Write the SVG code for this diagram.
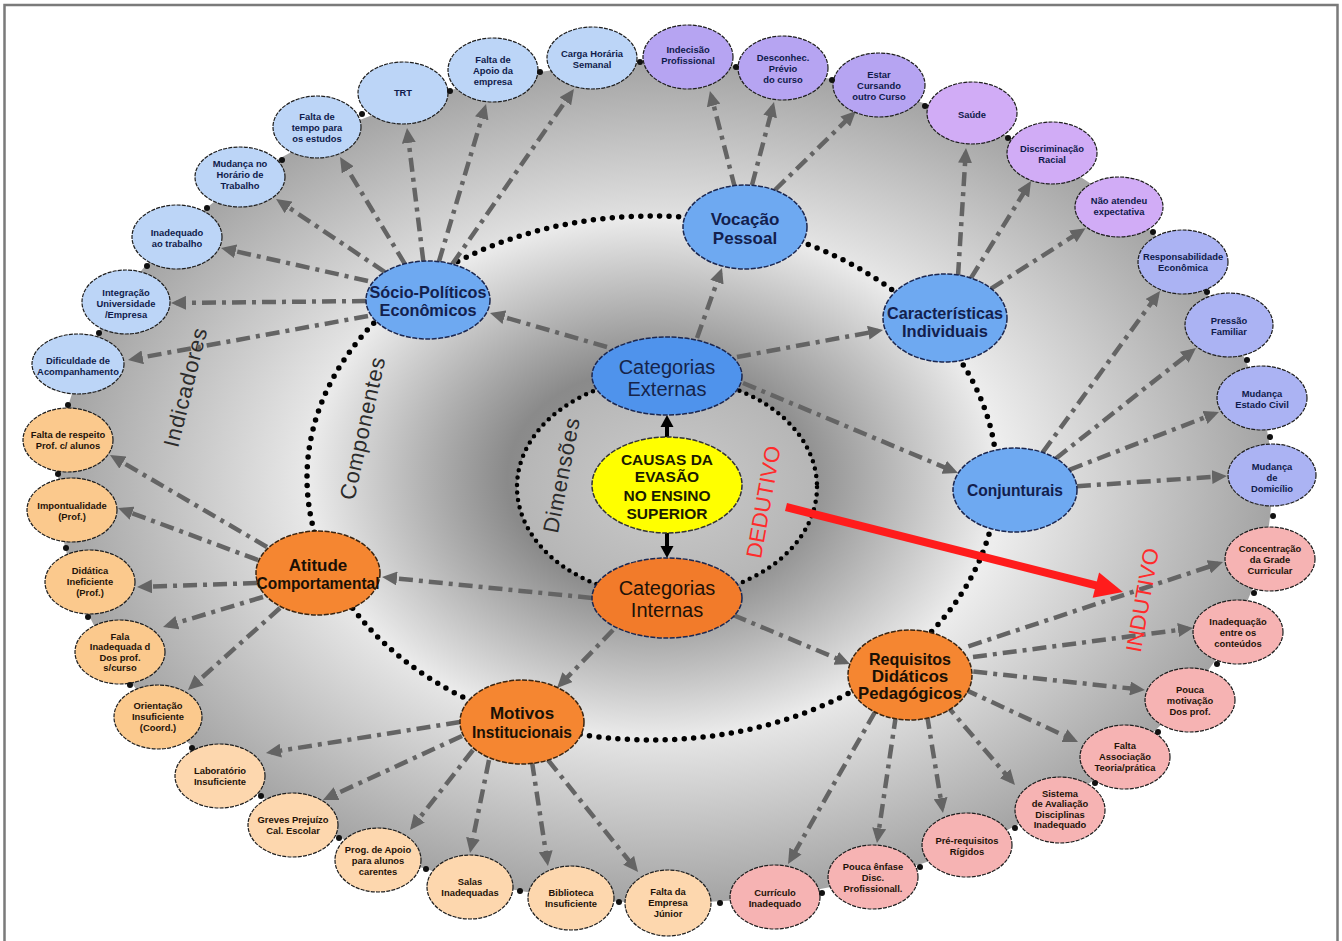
<svg xmlns="http://www.w3.org/2000/svg" width="1342" height="941" viewBox="0 0 1342 941">
<defs>
<style>
.o{stroke:#1e1e1e;stroke-width:1.2;stroke-dasharray:4 1.2}
.k{stroke:#1b2750;stroke-width:1.5;stroke-dasharray:5 1.5}
.b1{fill:#bcd5f7}.p1{fill:#b6a4f2}.p2{fill:#d1acf6}.p3{fill:#abb3f3}.r1{fill:#f6b3b3}.e1{fill:#fdd7ae}.e2{fill:#fbc98d}
.cb{fill:#6ea9f1}.co{fill:#f58631}
.t{font-family:"Liberation Sans",Arial,sans-serif;font-size:9.4px;font-weight:bold;text-anchor:middle}
.tn{fill:#0f1b4b}.td{fill:#1f1308}
.c{font-family:"Liberation Sans",Arial,sans-serif;font-size:17px;font-weight:bold;text-anchor:middle}
.cnv{fill:#13204d}.cdk{fill:#1a1005}
.g{font-family:"Liberation Sans",Arial,sans-serif;font-size:20px;text-anchor:middle;fill:#16244a}
.l{font-family:"Liberation Sans",Arial,sans-serif;font-size:22px;text-anchor:middle;fill:#2b2b2b;letter-spacing:0.8px}
.red{font-family:"Liberation Sans",Arial,sans-serif;font-size:22px;text-anchor:middle;fill:#ff2b2b}
.cn{fill:none;stroke:#646464;stroke-width:4.5;stroke-dasharray:14 6 4 6;marker-end:url(#ah)}
.dt{fill:#111}
.ring{fill:none;stroke:#000;stroke-linecap:round}
</style>
<marker id="ah" markerUnits="userSpaceOnUse" markerWidth="16" markerHeight="14" refX="10" refY="7" orient="auto"><path d="M0,0 L15,7 L0,14 Z" fill="#646464"/></marker>
<radialGradient id="gOuter" cx="0.5" cy="0.5" r="0.5">
<stop offset="0" stop-color="#f0f0f0"/><stop offset="0.56" stop-color="#ededed"/><stop offset="1" stop-color="#a4a4a4"/>
</radialGradient>
<radialGradient id="gMid" cx="0.5" cy="0.5" r="0.5">
<stop offset="0" stop-color="#9a9a9a"/><stop offset="0.42" stop-color="#8a8a8a"/><stop offset="1" stop-color="#ececec"/>
</radialGradient>
<radialGradient id="gIn" cx="0.5" cy="0.5" r="0.5">
<stop offset="0" stop-color="#cbcbcb"/><stop offset="1" stop-color="#b6b6b6"/>
</radialGradient>
</defs>
<rect x="0" y="0" width="1342" height="941" fill="#ffffff"/>
<rect x="4.5" y="5" width="1333" height="960" fill="none" stroke="#7a7a7a" stroke-width="2.5"/>

<g id="background">
<ellipse cx="665" cy="483" rx="607" ry="420" fill="url(#gOuter)"/>
<ellipse cx="652" cy="478" rx="345" ry="262" fill="url(#gMid)"/>
<ellipse cx="667" cy="487" rx="150" ry="110" fill="url(#gIn)"/>
<ellipse class="ring" cx="652" cy="478" rx="345" ry="262" stroke-width="5.5" stroke-dasharray="0 9.5"/>
<ellipse class="ring" cx="667" cy="487" rx="150" ry="110" stroke-width="4.5" stroke-dasharray="0 7.5"/>
</g>

<g id="labels">
<text class="l" transform="translate(185,387) rotate(-76)" y="8">Indicadores</text>
<text class="l" transform="translate(362,428) rotate(-77.6)" y="8">Componentes</text>
<text class="l" transform="translate(561,475) rotate(-79)" y="8">Dimensões</text>
</g>

<g id="connectors">
<line class="cn" x1="368" y1="316" x2="132.9" y2="359.1"/>
<line class="cn" x1="366" y1="301" x2="176" y2="303"/>
<line class="cn" x1="368" y1="281" x2="225.9" y2="249.1"/>
<line class="cn" x1="384.8" y1="272" x2="280.2" y2="201.8"/>
<line class="cn" x1="404.8" y1="263.8" x2="342.6" y2="161.3"/>
<line class="cn" x1="423.3" y1="261.1" x2="407.6" y2="133"/>
<line class="cn" x1="438.9" y1="261.6" x2="484.6" y2="108.8"/>
<line class="cn" x1="452.3" y1="264.1" x2="571.1" y2="93.1"/>
<line class="cn" x1="735" y1="188" x2="711.2" y2="95.8"/>
<line class="cn" x1="752" y1="185" x2="772.7" y2="106.8"/>
<line class="cn" x1="775" y1="190" x2="852.4" y2="114.5"/>
<line class="cn" x1="958" y1="276" x2="965.7" y2="153"/>
<line class="cn" x1="970.9" y1="278.1" x2="1028.4" y2="185.3"/>
<line class="cn" x1="991.1" y1="288.6" x2="1081.3" y2="231"/>
<line class="cn" x1="1042.7" y1="452.4" x2="1157.1" y2="295"/>
<line class="cn" x1="1055.9" y1="458.4" x2="1192.1" y2="351.1"/>
<line class="cn" x1="1069.3" y1="469.8" x2="1214.3" y2="413.8"/>
<line class="cn" x1="1076.9" y1="486.2" x2="1222" y2="476.3"/>
<line class="cn" x1="968.4" y1="646.3" x2="1218.3" y2="563.6"/>
<line class="cn" x1="973" y1="657" x2="1188" y2="628.7"/>
<line class="cn" x1="973.3" y1="671.6" x2="1140" y2="689.5"/>
<line class="cn" x1="964.2" y1="689.2" x2="1073.5" y2="739.9"/>
<line class="cn" x1="944.7" y1="703.2" x2="1011.7" y2="781.2"/>
<line class="cn" x1="927" y1="715" x2="942.2" y2="808.1"/>
<line class="cn" x1="896" y1="715" x2="877.7" y2="838.1"/>
<line class="cn" x1="875" y1="712" x2="790.5" y2="859.7"/>
<line class="cn" x1="548" y1="760" x2="634.9" y2="868.1"/>
<line class="cn" x1="532" y1="762" x2="547.2" y2="861.1"/>
<line class="cn" x1="489" y1="760" x2="471" y2="848.1"/>
<line class="cn" x1="473" y1="750" x2="413.1" y2="826.1"/>
<line class="cn" x1="462" y1="736" x2="327.5" y2="797.9"/>
<line class="cn" x1="460" y1="722" x2="270.9" y2="752.2"/>
<line class="cn" x1="267" y1="547" x2="114.3" y2="457.5"/>
<line class="cn" x1="258" y1="560" x2="122.7" y2="509.7"/>
<line class="cn" x1="257" y1="583" x2="142" y2="586.8"/>
<line class="cn" x1="263" y1="597" x2="167.8" y2="625.6"/>
<line class="cn" x1="280" y1="608" x2="191.7" y2="686.7"/>
<line class="cn" x1="607" y1="347" x2="494.8" y2="314.4"/>
<line class="cn" x1="697" y1="338" x2="720.3" y2="272.7"/>
<line class="cn" x1="737" y1="357" x2="878.1" y2="330.9"/>
<line class="cn" x1="743" y1="383" x2="953.4" y2="471.1"/>
<line class="cn" x1="592" y1="598" x2="387" y2="577.5"/>
<line class="cn" x1="613" y1="630" x2="560.5" y2="684.4"/>
<line class="cn" x1="733" y1="615" x2="845.4" y2="662.1"/>
<line x1="667" y1="440" x2="667" y2="424" stroke="#000" stroke-width="4"/>
<polygon points="667,415 660.5,427 673.5,427" fill="#000"/>
<line x1="667" y1="531" x2="667" y2="548" stroke="#000" stroke-width="4"/>
<polygon points="667,558 660.5,546 673.5,546" fill="#000"/>
</g>

<g id="deductive">
<line x1="786" y1="507" x2="1097" y2="585.6" stroke="#ff1c1c" stroke-width="8"/>
<polygon points="1123,592 1092.7,597.8 1099.1,572.6" fill="#ff1c1c"/>
<text class="red" transform="translate(763,502) rotate(-80)" y="8">DEDUTIVO</text>
<text class="red" transform="translate(1142,600) rotate(-80)" y="8">INDUTIVO</text>
</g>

<g id="n-causas"><ellipse cx="667" cy="485" rx="75" ry="48" fill="#ffff00" stroke="#333" stroke-width="1.5" stroke-dasharray="5 1.5"/>
<text font-family="Liberation Sans, Arial, sans-serif" font-size="15.5" font-weight="bold" text-anchor="middle" fill="#1a1a00"><tspan x="667" y="464.5">CAUSAS DA</tspan><tspan x="667" y="482">EVASÃO</tspan><tspan x="667" y="500.5">NO ENSINO</tspan><tspan x="667" y="518.5">SUPERIOR</tspan></text></g>
<g id="n-cat-externas"><ellipse class="k" cx="667" cy="376" rx="75" ry="39" fill="#4f93ec"/>
<text class="g"><tspan x="667" y="374">Categorias</tspan><tspan x="667" y="396">Externas</tspan></text></g>
<g id="n-cat-internas"><ellipse class="k" cx="667" cy="598" rx="75" ry="40" fill="#f27b2a" stroke="#3a2410"/>
<text class="g" style="fill:#1e1208"><tspan x="667" y="595">Categorias</tspan><tspan x="667" y="617">Internas</tspan></text></g>

<g id="n-socio"><ellipse class="k cb" cx="428" cy="300" rx="62" ry="39"/>
<text class="c cnv"><tspan x="428" y="298" textLength="117" lengthAdjust="spacingAndGlyphs">Sócio-Políticos</tspan><tspan x="428" y="316" textLength="97" lengthAdjust="spacingAndGlyphs">Econômicos</tspan></text></g>
<g id="n-vocacao"><ellipse class="k cb" cx="745" cy="227" rx="62" ry="42"/>
<text class="c cnv"><tspan x="745" y="225">Vocação</tspan><tspan x="745" y="244">Pessoal</tspan></text></g>
<g id="n-caracteristicas"><ellipse class="k cb" cx="945" cy="318" rx="62" ry="44"/>
<text class="c cnv"><tspan x="945" y="319" textLength="116" lengthAdjust="spacingAndGlyphs">Características</tspan><tspan x="945" y="337" textLength="86" lengthAdjust="spacingAndGlyphs">Individuais</tspan></text></g>
<g id="n-conjunturais"><ellipse class="k cb" cx="1015" cy="490" rx="62" ry="42"/>
<text class="c cnv"><tspan x="1015" y="496" textLength="96" lengthAdjust="spacingAndGlyphs">Conjunturais</tspan></text></g>
<g id="n-requisitos"><ellipse class="k co" cx="910" cy="675" rx="62" ry="45" style="stroke:#3a2410"/>
<text class="c cdk"><tspan x="910" y="665" textLength="82" lengthAdjust="spacingAndGlyphs">Requisitos</tspan><tspan x="910" y="682">Didáticos</tspan><tspan x="910" y="699" textLength="104" lengthAdjust="spacingAndGlyphs">Pedagógicos</tspan></text></g>
<g id="n-motivos"><ellipse class="k co" cx="522" cy="722" rx="62" ry="42" style="stroke:#3a2410"/>
<text class="c cdk"><tspan x="522" y="719">Motivos</tspan><tspan x="522" y="738" textLength="100" lengthAdjust="spacingAndGlyphs">Institucionais</tspan></text></g>
<g id="n-atitude"><ellipse class="k co" cx="318" cy="573" rx="62" ry="42" style="stroke:#3a2410"/>
<text class="c cdk"><tspan x="318" y="571">Atitude</tspan><tspan x="318" y="589" textLength="123" lengthAdjust="spacingAndGlyphs">Comportamental</tspan></text></g>

<g id="n01"><ellipse class="o b1" cx="78" cy="364" rx="46" ry="30"/><text class="t tn"><tspan x="78" y="363.7">Dificuldade de</tspan><tspan x="78" y="374.7">Acompanhamento</tspan></text></g>
<g id="n02"><ellipse class="o b1" cx="126" cy="302" rx="44" ry="32"/><text class="t tn"><tspan x="126" y="296.2">Integração</tspan><tspan x="126" y="307.2">Universidade</tspan><tspan x="126" y="318.2">/Empresa</tspan></text></g>
<g id="n03"><ellipse class="o b1" cx="177" cy="237" rx="45" ry="32"/><text class="t tn"><tspan x="177" y="235.7">Inadequado</tspan><tspan x="177" y="246.7">ao trabalho</tspan></text></g>
<g id="n04"><ellipse class="o b1" cx="240" cy="177" rx="45" ry="30"/><text class="t tn"><tspan x="240" y="167.2">Mudança no</tspan><tspan x="240" y="178.2">Horário de</tspan><tspan x="240" y="189.2">Trabalho</tspan></text></g>
<g id="n05"><ellipse class="o b1" cx="317" cy="127" rx="44" ry="31"/><text class="t tn"><tspan x="317" y="120.2">Falta de</tspan><tspan x="317" y="131.2">tempo para</tspan><tspan x="317" y="142.2">os estudos</tspan></text></g>
<g id="n06"><ellipse class="o b1" cx="403" cy="93" rx="45" ry="31"/><text class="t tn"><tspan x="403" y="96.2">TRT</tspan></text></g>
<g id="n07"><ellipse class="o b1" cx="493" cy="70" rx="45" ry="32"/><text class="t tn"><tspan x="493" y="63.2">Falta de</tspan><tspan x="493" y="74.2">Apoio da</tspan><tspan x="493" y="85.2">empresa</tspan></text></g>
<g id="n08"><ellipse class="o b1" cx="592" cy="58" rx="45" ry="31"/><text class="t tn"><tspan x="592" y="56.7">Carga Horária</tspan><tspan x="592" y="67.7">Semanal</tspan></text></g>
<g id="n09"><ellipse class="o p1" cx="688" cy="57" rx="45" ry="32"/><text class="t tn"><tspan x="688" y="52.7">Indecisão</tspan><tspan x="688" y="63.7">Profissional</tspan></text></g>
<g id="n10"><ellipse class="o p1" cx="783" cy="68" rx="45" ry="32"/><text class="t tn"><tspan x="783" y="61.2">Desconhec.</tspan><tspan x="783" y="72.2">Prévio</tspan><tspan x="783" y="83.2">do curso</tspan></text></g>
<g id="n11"><ellipse class="o p1" cx="879" cy="85" rx="46" ry="32"/><text class="t tn"><tspan x="879" y="78.2">Estar</tspan><tspan x="879" y="89.2">Cursando</tspan><tspan x="879" y="100.2">outro Curso</tspan></text></g>
<g id="n12"><ellipse class="o p2" cx="972" cy="113" rx="45" ry="31"/><text class="t tn"><tspan x="972" y="118.2">Saúde</tspan></text></g>
<g id="n13"><ellipse class="o p2" cx="1052" cy="153" rx="45" ry="31"/><text class="t tn"><tspan x="1052" y="151.7">Discriminação</tspan><tspan x="1052" y="162.7">Racial</tspan></text></g>
<g id="n14"><ellipse class="o p2" cx="1119" cy="207" rx="44" ry="30"/><text class="t tn"><tspan x="1119" y="203.7">Não atendeu</tspan><tspan x="1119" y="214.7">expectativa</tspan></text></g>
<g id="n15"><ellipse class="o p3" cx="1183" cy="262" rx="45" ry="32"/><text class="t tn"><tspan x="1183" y="259.7">Responsabilidade</tspan><tspan x="1183" y="270.7">Econômica</tspan></text></g>
<g id="n16"><ellipse class="o p3" cx="1229" cy="325" rx="44" ry="32"/><text class="t tn"><tspan x="1229" y="323.7">Pressão</tspan><tspan x="1229" y="334.7">Familiar</tspan></text></g>
<g id="n17"><ellipse class="o p3" cx="1262" cy="398" rx="45" ry="32"/><text class="t tn"><tspan x="1262" y="396.7">Mudança</tspan><tspan x="1262" y="407.7">Estado Civil</tspan></text></g>
<g id="n18"><ellipse class="o p3" cx="1272" cy="475" rx="44" ry="31"/><text class="t tn"><tspan x="1272" y="470.2">Mudança</tspan><tspan x="1272" y="481.2">de</tspan><tspan x="1272" y="492.2">Domicílio</tspan></text></g>
<g id="n19"><ellipse class="o r1" cx="1270" cy="559" rx="45" ry="32"/><text class="t td"><tspan x="1270" y="552.2">Concentração</tspan><tspan x="1270" y="563.2">da Grade</tspan><tspan x="1270" y="574.2">Curricular</tspan></text></g>
<g id="n20"><ellipse class="o r1" cx="1238" cy="632" rx="45" ry="32"/><text class="t td"><tspan x="1238" y="625.2">Inadequação</tspan><tspan x="1238" y="636.2">entre os</tspan><tspan x="1238" y="647.2">conteúdos</tspan></text></g>
<g id="n21"><ellipse class="o r1" cx="1190" cy="700" rx="45" ry="32"/><text class="t td"><tspan x="1190" y="693.2">Pouca</tspan><tspan x="1190" y="704.2">motivação</tspan><tspan x="1190" y="715.2">Dos prof.</tspan></text></g>
<g id="n22"><ellipse class="o r1" cx="1125" cy="757" rx="45" ry="32"/><text class="t td"><tspan x="1125" y="749.2">Falta</tspan><tspan x="1125" y="760.2">Associação</tspan><tspan x="1125" y="771.2">Teoria/prática</tspan></text></g>
<g id="n23"><ellipse class="o r1" cx="1060" cy="810" rx="45" ry="33"/><text class="t td"><tspan x="1060" y="796.5">Sistema</tspan><tspan x="1060" y="807">de Avaliação</tspan><tspan x="1060" y="817.5">Disciplinas</tspan><tspan x="1060" y="828">Inadequado</tspan></text></g>
<g id="n24"><ellipse class="o r1" cx="967" cy="845" rx="45" ry="32"/><text class="t td"><tspan x="967" y="843.7">Pré-requisitos</tspan><tspan x="967" y="854.7">Rígidos</tspan></text></g>
<g id="n25"><ellipse class="o r1" cx="873" cy="877" rx="45" ry="32"/><text class="t td"><tspan x="873" y="870.2">Pouca ênfase</tspan><tspan x="873" y="881.2">Disc.</tspan><tspan x="873" y="892.2">Profissionall.</tspan></text></g>
<g id="n26"><ellipse class="o r1" cx="775" cy="897" rx="45" ry="32"/><text class="t td"><tspan x="775" y="895.7">Currículo</tspan><tspan x="775" y="906.7">Inadequado</tspan></text></g>
<g id="n27"><ellipse class="o e1" cx="668" cy="903" rx="43" ry="33"/><text class="t td"><tspan x="668" y="895.2">Falta da</tspan><tspan x="668" y="906.2">Empresa</tspan><tspan x="668" y="917.2">Júnior</tspan></text></g>
<g id="n28"><ellipse class="o e1" cx="571" cy="898" rx="43" ry="32"/><text class="t td"><tspan x="571" y="895.7">Biblioteca</tspan><tspan x="571" y="906.7">Insuficiente</tspan></text></g>
<g id="n29"><ellipse class="o e1" cx="470" cy="887" rx="43" ry="32"/><text class="t td"><tspan x="470" y="884.7">Salas</tspan><tspan x="470" y="895.7">Inadequadas</tspan></text></g>
<g id="n30"><ellipse class="o e1" cx="378" cy="860" rx="43" ry="32"/><text class="t td"><tspan x="378" y="853.2">Prog. de Apoio</tspan><tspan x="378" y="864.2">para alunos</tspan><tspan x="378" y="875.2">carentes</tspan></text></g>
<g id="n31"><ellipse class="o e1" cx="293" cy="825" rx="45" ry="32"/><text class="t td"><tspan x="293" y="822.7">Greves Prejuízo</tspan><tspan x="293" y="833.7">Cal. Escolar</tspan></text></g>
<g id="n32"><ellipse class="o e1" cx="220" cy="776" rx="45" ry="32"/><text class="t td"><tspan x="220" y="773.7">Laboratório</tspan><tspan x="220" y="784.7">Insuficiente</tspan></text></g>
<g id="n33"><ellipse class="o e2" cx="158" cy="717" rx="44" ry="32"/><text class="t td"><tspan x="158" y="709.2">Orientação</tspan><tspan x="158" y="720.2">Insuficiente</tspan><tspan x="158" y="731.2">(Coord.)</tspan></text></g>
<g id="n34"><ellipse class="o e2" cx="120" cy="652" rx="45" ry="32"/><text class="t td"><tspan x="120" y="639.5">Fala</tspan><tspan x="120" y="650">Inadequada d</tspan><tspan x="120" y="660.5">Dos prof.</tspan><tspan x="120" y="671">s/curso</tspan></text></g>
<g id="n35"><ellipse class="o e2" cx="90" cy="582" rx="45" ry="32"/><text class="t td"><tspan x="90" y="574.2">Didática</tspan><tspan x="90" y="585.2">Ineficiente</tspan><tspan x="90" y="596.2">(Prof.)</tspan></text></g>
<g id="n36"><ellipse class="o e2" cx="72" cy="510" rx="45" ry="32"/><text class="t td"><tspan x="72" y="508.7">Impontualidade</tspan><tspan x="72" y="519.7">(Prof.)</tspan></text></g>
<g id="n37"><ellipse class="o e2" cx="68" cy="440" rx="45" ry="32"/><text class="t td"><tspan x="68" y="437.7">Falta de respeito</tspan><tspan x="68" y="448.7">Prof. c/ alunos</tspan></text></g>

<g id="dots" class="dt">
<circle cx="68" cy="405" r="3"/><circle cx="58" cy="474" r="3"/><circle cx="66" cy="548" r="3"/><circle cx="88" cy="617" r="3"/><circle cx="130" cy="685" r="3"/><circle cx="192" cy="748" r="3"/>
<circle cx="99" cy="333" r="3"/><circle cx="147" cy="266" r="3"/><circle cx="207" cy="208" r="3"/><circle cx="282" cy="160" r="3"/><circle cx="362" cy="114" r="3"/><circle cx="450" cy="91" r="3"/><circle cx="540" cy="72" r="3"/><circle cx="640" cy="62" r="3"/>
<circle cx="736" cy="67" r="3"/><circle cx="832" cy="80" r="3"/><circle cx="925" cy="106" r="3"/><circle cx="1008" cy="138" r="3"/><circle cx="1153" cy="232" r="3"/><circle cx="1207" cy="292" r="3"/><circle cx="1247" cy="360" r="3"/><circle cx="1270" cy="437" r="3"/>
<circle cx="1273" cy="516" r="3"/><circle cx="1254" cy="593" r="3"/><circle cx="1217" cy="664" r="3"/><circle cx="1158" cy="732" r="3"/><circle cx="1095" cy="783" r="3"/><circle cx="1015" cy="828" r="3"/><circle cx="920" cy="867" r="3"/><circle cx="822" cy="893" r="3"/>
<circle cx="720" cy="903" r="3"/><circle cx="619" cy="902" r="3"/><circle cx="520" cy="891" r="3"/><circle cx="426" cy="869" r="3"/><circle cx="339" cy="838" r="3"/><circle cx="261" cy="796" r="3"/>
</g>
</svg>
